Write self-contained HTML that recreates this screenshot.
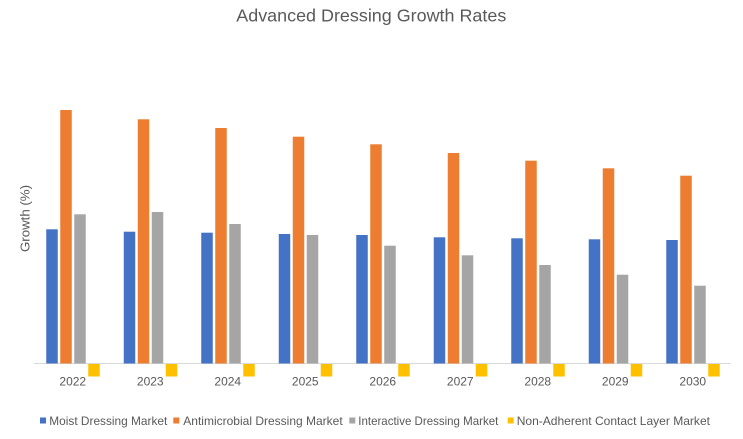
<!DOCTYPE html>
<html><head><meta charset="utf-8"><style>
html,body{margin:0;padding:0;background:#fff;}
svg{display:block;}
text{font-family:"Liberation Sans",Arial,sans-serif;fill:#595959;}
</style></head><body>
<svg width="743" height="439" viewBox="0 0 743 439" xmlns="http://www.w3.org/2000/svg">
<rect width="743" height="439" fill="#fff"/>
<text x="371.3" y="21.7" font-size="17.5" text-anchor="middle" textLength="270" lengthAdjust="spacingAndGlyphs">Advanced Dressing Growth Rates</text>
<text transform="translate(29.5,218.5) rotate(-90)" font-size="12.5" text-anchor="middle" textLength="67" lengthAdjust="spacingAndGlyphs">Growth (%)</text>
<g id="bars"></g>
<line x1="34" y1="363.5" x2="731" y2="363.5" stroke="#D9D9D9" stroke-width="1"/>
<g font-size="12" text-anchor="middle">
<text x="72.75" y="385.5">2022</text>
<text x="150.25" y="385.5">2023</text>
<text x="227.75" y="385.5">2024</text>
<text x="305.25" y="385.5">2025</text>
<text x="382.75" y="385.5">2026</text>
<text x="460.25" y="385.5">2027</text>
<text x="537.75" y="385.5">2028</text>
<text x="615.25" y="385.5">2029</text>
<text x="692.75" y="385.5">2030</text>
</g>
<g font-size="12">
<rect x="40" y="417.5" width="6" height="6" fill="#4472C4"/>
<text x="49.3" y="425" textLength="118" lengthAdjust="spacingAndGlyphs">Moist Dressing Market</text>
<rect x="173.3" y="417.5" width="6" height="6" fill="#ED7D31"/>
<text x="183.3" y="425" textLength="159.4" lengthAdjust="spacingAndGlyphs">Antimicrobial Dressing Market</text>
<rect x="349.3" y="417.5" width="6" height="6" fill="#A5A5A5"/>
<text x="358.3" y="425" textLength="140" lengthAdjust="spacingAndGlyphs">Interactive Dressing Market</text>
<rect x="507.7" y="417.5" width="6" height="6" fill="#FFC000"/>
<text x="516.7" y="425" textLength="193.3" lengthAdjust="spacingAndGlyphs">Non-Adherent Contact Layer Market</text>
</g>
<g>
<!-- 2022 c=72.75 -->
<rect x="46.25" y="229.3" width="11.5" height="134.2" fill="#4472C4"/>
<rect x="60.25" y="110" width="11.5" height="253.5" fill="#ED7D31"/>
<rect x="74.25" y="214.3" width="11.5" height="149.2" fill="#A5A5A5"/>
<rect x="88.25" y="364" width="11.5" height="12.5" fill="#FFC000"/>
<!-- 2023 c=150.25 -->
<rect x="123.75" y="231.7" width="11.5" height="131.8" fill="#4472C4"/>
<rect x="137.75" y="119.3" width="11.5" height="244.2" fill="#ED7D31"/>
<rect x="151.75" y="212" width="11.5" height="151.5" fill="#A5A5A5"/>
<rect x="165.75" y="364" width="11.5" height="12.5" fill="#FFC000"/>
<!-- 2024 c=227.75 -->
<rect x="201.25" y="232.7" width="11.5" height="130.8" fill="#4472C4"/>
<rect x="215.25" y="128" width="11.5" height="235.5" fill="#ED7D31"/>
<rect x="229.25" y="224" width="11.5" height="139.5" fill="#A5A5A5"/>
<rect x="243.25" y="364" width="11.5" height="12.5" fill="#FFC000"/>
<!-- 2025 c=305.25 -->
<rect x="278.75" y="234" width="11.5" height="129.5" fill="#4472C4"/>
<rect x="292.75" y="136.7" width="11.5" height="226.8" fill="#ED7D31"/>
<rect x="306.75" y="235" width="11.5" height="128.5" fill="#A5A5A5"/>
<rect x="320.75" y="364" width="11.5" height="12.5" fill="#FFC000"/>
<!-- 2026 c=382.75 -->
<rect x="356.25" y="235" width="11.5" height="128.5" fill="#4472C4"/>
<rect x="370.25" y="144.3" width="11.5" height="219.2" fill="#ED7D31"/>
<rect x="384.25" y="245.7" width="11.5" height="117.8" fill="#A5A5A5"/>
<rect x="398.25" y="364" width="11.5" height="12.5" fill="#FFC000"/>
<!-- 2027 c=460.25 -->
<rect x="433.75" y="237.3" width="11.5" height="126.2" fill="#4472C4"/>
<rect x="447.75" y="153" width="11.5" height="210.5" fill="#ED7D31"/>
<rect x="461.75" y="255.3" width="11.5" height="108.2" fill="#A5A5A5"/>
<rect x="475.75" y="364" width="11.5" height="12.5" fill="#FFC000"/>
<!-- 2028 c=537.75 -->
<rect x="511.25" y="238.3" width="11.5" height="125.2" fill="#4472C4"/>
<rect x="525.25" y="160.7" width="11.5" height="202.8" fill="#ED7D31"/>
<rect x="539.25" y="265" width="11.5" height="98.5" fill="#A5A5A5"/>
<rect x="553.25" y="364" width="11.5" height="12.5" fill="#FFC000"/>
<!-- 2029 c=615.25 -->
<rect x="588.75" y="239.3" width="11.5" height="124.2" fill="#4472C4"/>
<rect x="602.75" y="168.3" width="11.5" height="195.2" fill="#ED7D31"/>
<rect x="616.75" y="274.7" width="11.5" height="88.8" fill="#A5A5A5"/>
<rect x="630.75" y="364" width="11.5" height="12.5" fill="#FFC000"/>
<!-- 2030 c=692.75 -->
<rect x="666.25" y="240" width="11.5" height="123.5" fill="#4472C4"/>
<rect x="680.25" y="175.7" width="11.5" height="187.8" fill="#ED7D31"/>
<rect x="694.25" y="285.7" width="11.5" height="77.8" fill="#A5A5A5"/>
<rect x="708.25" y="364" width="11.5" height="12.5" fill="#FFC000"/>
</g>
</svg>
</body></html>
